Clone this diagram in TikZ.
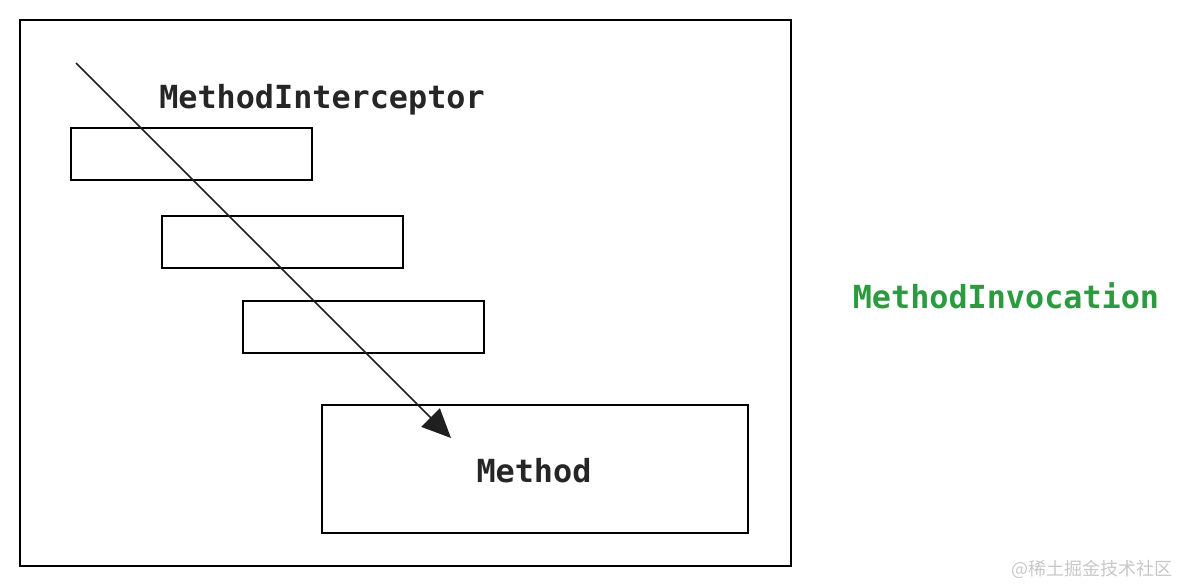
\documentclass[tikz,border=0pt]{standalone}
\usepackage{fontspec}
\setmonofont{DejaVu Sans Mono}
\newfontfamily\cjk{Noto Sans CJK SC}
\usetikzlibrary{arrows.meta, positioning}
\definecolor{invgreen}{RGB}{44,154,62}
\definecolor{markgray}{RGB}{200,200,200}
\tikzstyle{block}=[draw,fill=white,rectangle,line width=1pt,inner sep=0pt]
\tikzstyle{every node}=[font=\ttfamily\bfseries\fontsize{15.9}{19}\selectfont]
\tikzstyle{label}=[anchor=base,inner sep=0pt,text=black!85]

\begin{document}
\begin{tikzpicture}[x=0.5pt,y=-0.5pt]
  \useasboundingbox (0,0) rectangle (1179,586);
  \node[block, minimum width=385.5pt, minimum height=273pt] (frame) at (405.5,293) {};
  \node[block, minimum width=120.5pt, minimum height=26pt] (first) at (191.5,154) {};
  \node[block, minimum width=120.5pt, minimum height=26pt] (second) at (282.5,242) {};
  \node[block, minimum width=120.5pt, minimum height=26pt] (third) at (363.5,327) {};
  \node[block, minimum width=213pt, minimum height=64pt] (method) at (535,469) {};
  \node[label] (interceptor) at (322,108) {MethodInterceptor};
  \node[label] (methodname) at (534,482) {Method};
  \node[label, text=invgreen] (invocation) at (1006,308) {MethodInvocation};
  \node[anchor=base east, inner sep=0pt, text=markgray, font=\cjk\fontsize{9}{11}\selectfont] (mark) at (1173,575) {@稀土掘金技术社区};
  \coordinate (start) at (76,63);
  \coordinate (tip) at (451,438);
  \draw[-{Triangle[length=14.5pt,width=13pt]}, line width=0.85pt, black!88] (start) -- (tip);
\end{tikzpicture}
\end{document}
